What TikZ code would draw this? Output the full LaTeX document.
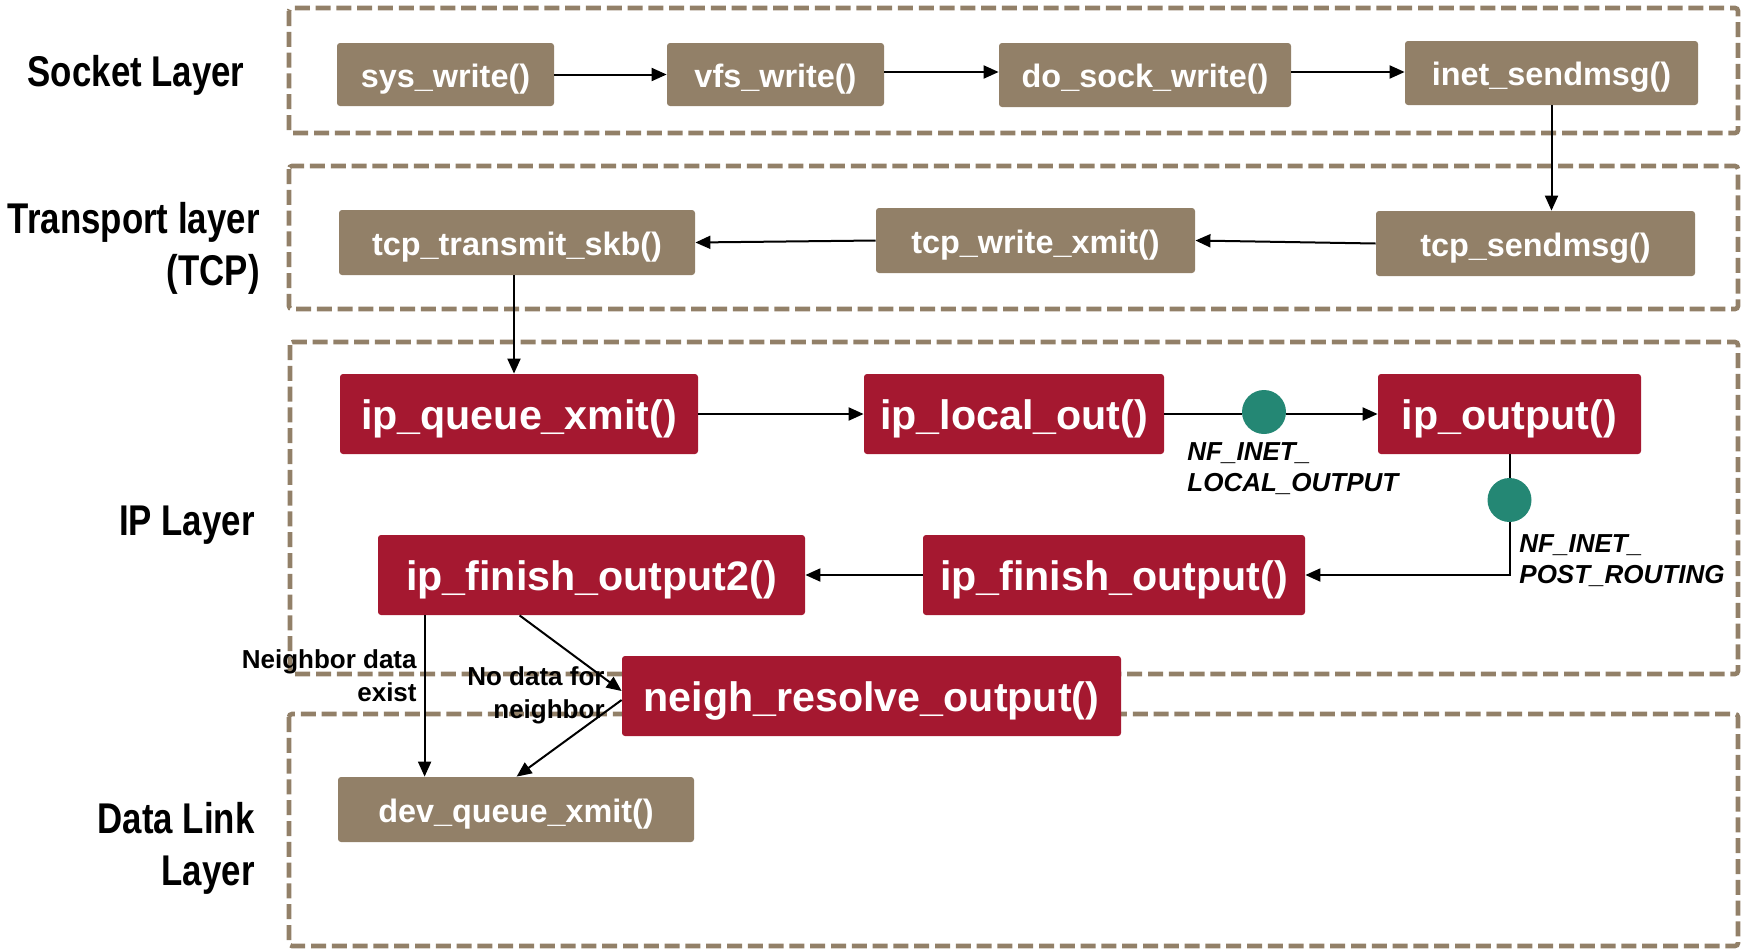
\documentclass[tikz,border=0pt]{standalone}
\usepackage{fontspec}
\setmainfont{Liberation Sans}
\newfontfamily\layerfont[FakeStretch=0.81]{Liberation Sans}
\usetikzlibrary{arrows.meta}
\definecolor{beige}{HTML}{928068}
\definecolor{ipred}{HTML}{A51830}
\definecolor{hookgreen}{HTML}{248774}
\tikzset{
 layerbox/.style={draw=beige, line width=2.3pt, dash pattern=on 7.5pt off 2.9pt, rounded corners=1.5pt},
 fnbox/.style={fill=beige, text=white, font=\bfseries\fontsize{16.2}{19}\selectfont, rounded corners=1.5pt, inner sep=0pt, text height=12.9pt, text depth=0pt},
 ipbox/.style={fill=ipred, text=white, font=\bfseries\fontsize{20.6}{24}\selectfont, rounded corners=1.5pt, inner sep=0pt, minimum height=40pt, text height=15.3pt, text depth=0pt},
 hook/.style={circle, fill=hookgreen, minimum size=22pt, inner sep=0pt},
 arr/.style={-{Triangle[length=7.5pt,width=6.5pt]}, line width=1pt},
 plain/.style={line width=1pt},
 layerlabel/.style={font=\layerfont\bfseries\fontsize{21.5}{26}\selectfont, align=right, inner sep=0pt, anchor=north east},
 hooklabel/.style={font=\bfseries\itshape\fontsize{13}{15.5}\selectfont, align=left, inner sep=0pt, anchor=north west},
 condlabel/.style={font=\bfseries\fontsize{13}{16.5}\selectfont, align=right, inner sep=0pt, anchor=north east}
}
\begin{document}
\begin{tikzpicture}[x=0.5pt,y=-0.5pt]
\useasboundingbox (0,0) rectangle (1744,948);
% layer frames
\draw[layerbox] (289,8) rectangle (1738,133);
\draw[layerbox] (289,166) rectangle (1738,309);
\draw[layerbox] (290,342) rectangle (1738,674);
\draw[layerbox] (289,714) rectangle (1738,946);
% layer labels
\node[layerlabel] (lsock) at (245,55) {Socket Layer};
\node[layerlabel] (ltrans) at (260,202) {Transport layer\\(TCP)};
\node[layerlabel] (lip) at (255,506) {IP Layer};
\node[layerlabel] (llink) at (255,802) {Data Link\\Layer};
% function nodes
\node[fnbox, minimum width=108.5pt, minimum height=31.5pt] (sys) at (445.5,74.5) {sys\_write()};
\node[fnbox, minimum width=108.5pt, minimum height=31.5pt] (vfs) at (775.5,74.5) {vfs\_write()};
\node[fnbox, minimum width=146pt, minimum height=32pt] (dosock) at (1145,75) {do\_sock\_write()};
\node[fnbox, minimum width=146.5pt, minimum height=32pt] (inet) at (1551.5,73) {inet\_sendmsg()};
\node[fnbox, minimum width=159.5pt, minimum height=32.5pt] (tcpsend) at (1535.5,243.5) {tcp\_sendmsg()};
\node[fnbox, minimum width=159.5pt, minimum height=32.5pt] (tcpwx) at (1035.5,240.5) {tcp\_write\_xmit()};
\node[fnbox, minimum width=178pt, minimum height=32.5pt] (tcpskb) at (517,242.5) {tcp\_transmit\_skb()};
\node[ipbox, minimum width=179pt] (ipq) at (519,414) {ip\_queue\_xmit()};
\node[ipbox, minimum width=150pt] (iplo) at (1014,414) {ip\_local\_out()};
\node[ipbox, minimum width=131.5pt] (ipout) at (1509.5,414) {ip\_output()};
\node[ipbox, minimum width=191pt] (ipfo) at (1114,575) {ip\_finish\_output()};
\node[ipbox, minimum width=213.5pt] (ipfo2) at (591.5,575) {ip\_finish\_output2()};
\node[ipbox, minimum width=249.5pt] (neigh) at (871.5,696) {neigh\_resolve\_output()};
\node[fnbox, minimum width=178pt, minimum height=32.5pt] (devq) at (516,809.5) {dev\_queue\_xmit()};
% netfilter hooks
\node[hook] (hook1) at (1264,412) {};
\node[hook] (hook2) at (1509.5,500) {};
% connectors
\draw[arr] (sys.east) -- (vfs.west);
\draw[arr] ([yshift=1.25pt]vfs.east) -- ([yshift=1.25pt]vfs.east -| dosock.west);
\draw[arr] ([yshift=1.5pt]dosock.east) -- ([yshift=1.5pt]dosock.east -| inet.west);
\draw[arr] (inet.south) -- (inet.south |- tcpsend.north);
\draw[arr] (tcpsend.west) -- (tcpwx.east);
\draw[arr] (tcpwx.west) -- (tcpskb.east);
\draw[arr] ([xshift=-1.5pt]tcpskb.south) -- ([xshift=-1.5pt]tcpskb.south |- ipq.north);
\draw[arr] (ipq.east) -- (iplo.west);
\draw[plain] (iplo.east) -- (iplo.east -| hook1.west);
\draw[arr] (hook1.east |- ipout.west) -- (ipout.west);
\draw[plain] (ipout.south) -- (hook2);
\draw[arr] (hook2) -- (hook2 |- ipfo.east) -- (ipfo.east);
\draw[arr] (ipfo.west) -- (ipfo2.east);
\draw[arr] ([xshift=23.5pt]ipfo2.south west) -- ([xshift=23.5pt]ipfo2.south west |- devq.north);
\draw[arr] ([xshift=71pt]ipfo2.south west) -- ([yshift=2.5pt]neigh.west);
\draw[arr] ([yshift=-2pt]neigh.west) -- ([xshift=89.5pt]devq.north west);
% connector labels
\node[hooklabel] (nf1) at (1187,442) {NF\_INET\_\\LOCAL\_OUTPUT};
\node[hooklabel] (nf2) at (1519,534) {NF\_INET\_\\POST\_ROUTING};
\node[condlabel] (c1) at (417,649) {Neighbor data\\exist};
\node[condlabel] (c2) at (605,666) {No data for\\neighbor};
\end{tikzpicture}
\end{document}
